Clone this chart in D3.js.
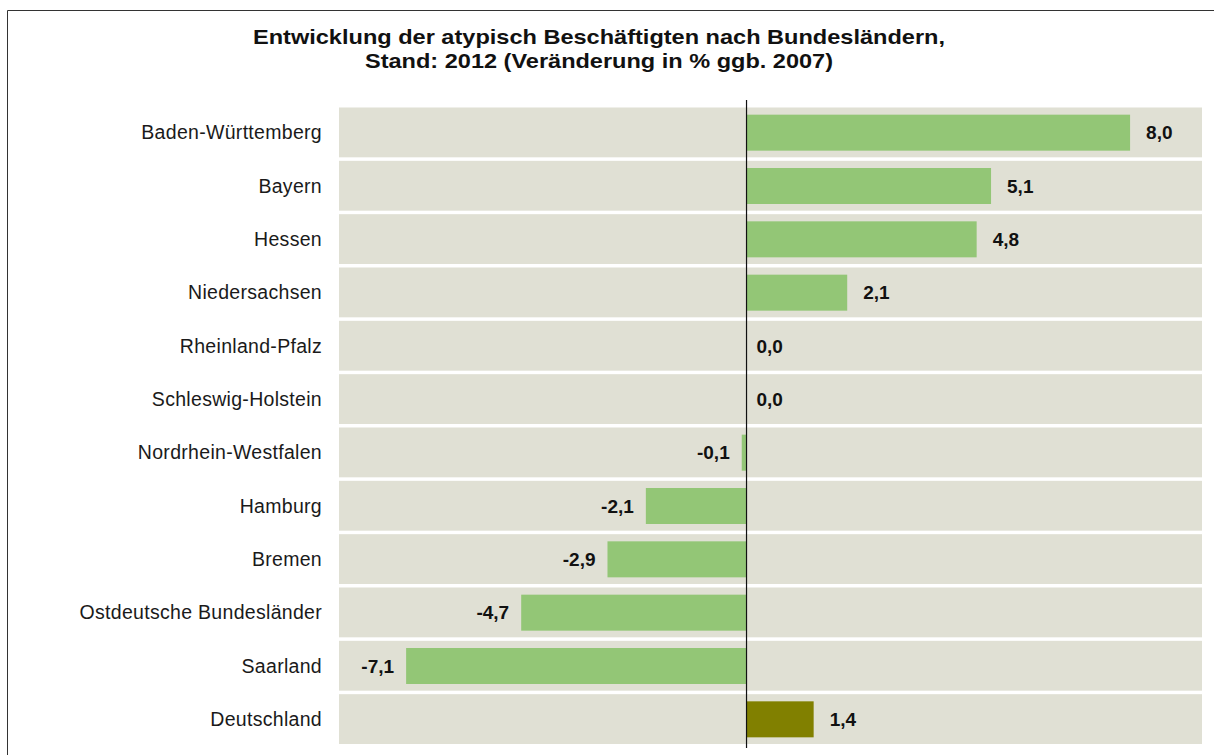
<!DOCTYPE html>
<html>
<head>
<meta charset="utf-8">
<script src="https://cdn.jsdelivr.net/npm/d3@7"></script>
<style>
  html, body { margin: 0; padding: 0; background: #ffffff; }
  svg { display: block; }
</style>
</head>
<body>
<svg id="chart" width="1214" height="755"></svg>
<script>
// Veränderung der atypisch Beschäftigten 2012 gegenüber 2007, in %
const categories = [
  "Baden-Württemberg", "Bayern", "Hessen", "Niedersachsen", "Rheinland-Pfalz",
  "Schleswig-Holstein", "Nordrhein-Westfalen", "Hamburg", "Bremen",
  "Ostdeutsche Bundesländer", "Saarland", "Deutschland"
];
const values = [8.0, 5.1, 4.8, 2.1, 0.0, 0.0, -0.1, -2.1, -2.9, -4.7, -7.1, 1.4];
const valueLabels = ["8,0", "5,1", "4,8", "2,1", "0,0", "0,0", "-0,1", "-2,1", "-2,9", "-4,7", "-7,1", "1,4"];
const totalCategory = "Deutschland";
const titleLines = [
  "Entwicklung der atypisch Beschäftigten nach Bundesländern,",
  "Stand: 2012 (Veränderung in % ggb. 2007)"
];
const titleWidths = [692, 468];

const svg = d3.select("#chart");
const font = "'Liberation Sans', Arial, sans-serif";

// outer frame (left and top edges)
svg.append("path")
  .attr("d", "M7.5,755 V10.5 H1214")
  .attr("fill", "none")
  .attr("stroke", "#333")
  .attr("stroke-width", 1);

// title
svg.append("g").selectAll("text")
  .data(titleLines)
  .join("text")
  .attr("x", 599)
  .attr("y", (d, i) => 44 + i * 24)
  .attr("text-anchor", "middle")
  .attr("font-family", font)
  .attr("font-weight", "bold")
  .attr("font-size", 20.5)
  .attr("textLength", (d, i) => titleWidths[i])
  .attr("lengthAdjust", "spacingAndGlyphs")
  .attr("fill", "#111")
  .text(d => d);

const x = d3.scaleLinear().domain([-8.5, 9.5]).range([339, 1202]);
const y = d3.scaleBand().domain(categories).range([106, 746]);

// row backgrounds
svg.append("g").selectAll("rect")
  .data(categories)
  .join("rect")
  .attr("x", x.range()[0])
  .attr("width", x.range()[1] - x.range()[0])
  .attr("y", d => y(d) + 1.5)
  .attr("height", y.bandwidth() - 3.5)
  .attr("fill", "#e0e0d4");

// bars
const barH = 36;
svg.append("g").selectAll("rect")
  .data(values)
  .join("rect")
  .attr("x", d => x(Math.min(0, d)))
  .attr("width", d => Math.abs(x(d) - x(0)))
  .attr("y", (d, i) => y(categories[i]) + (y.bandwidth() - barH) / 2)
  .attr("height", barH)
  .attr("fill", (d, i) => categories[i] === totalCategory ? "#818000" : "#93c676");

// zero line
svg.append("line")
  .attr("x1", x(0)).attr("x2", x(0))
  .attr("y1", 100).attr("y2", 748)
  .attr("stroke", "#111")
  .attr("stroke-width", 1.2);

// category labels
svg.append("g").selectAll("text")
  .data(categories)
  .join("text")
  .attr("x", 322)
  .attr("y", d => y(d) + y.bandwidth() / 2)
  .attr("dy", "0.35em")
  .attr("text-anchor", "end")
  .attr("font-family", font)
  .attr("font-size", 19.5)
  .attr("letter-spacing", 0.3)
  .attr("fill", "#1a1a1a")
  .text(d => d);

// value labels
svg.append("g").selectAll("text")
  .data(values)
  .join("text")
  .attr("x", d => d < 0 ? x(d) - 12 : x(d) + (d === 0 ? 10 : 16))
  .attr("y", (d, i) => y(categories[i]) + y.bandwidth() / 2)
  .attr("dy", "0.35em")
  .attr("text-anchor", d => d < 0 ? "end" : "start")
  .attr("font-family", font)
  .attr("font-weight", "bold")
  .attr("font-size", 19)
  .attr("fill", "#111")
  .text((d, i) => valueLabels[i]);
</script>
</body>
</html>
